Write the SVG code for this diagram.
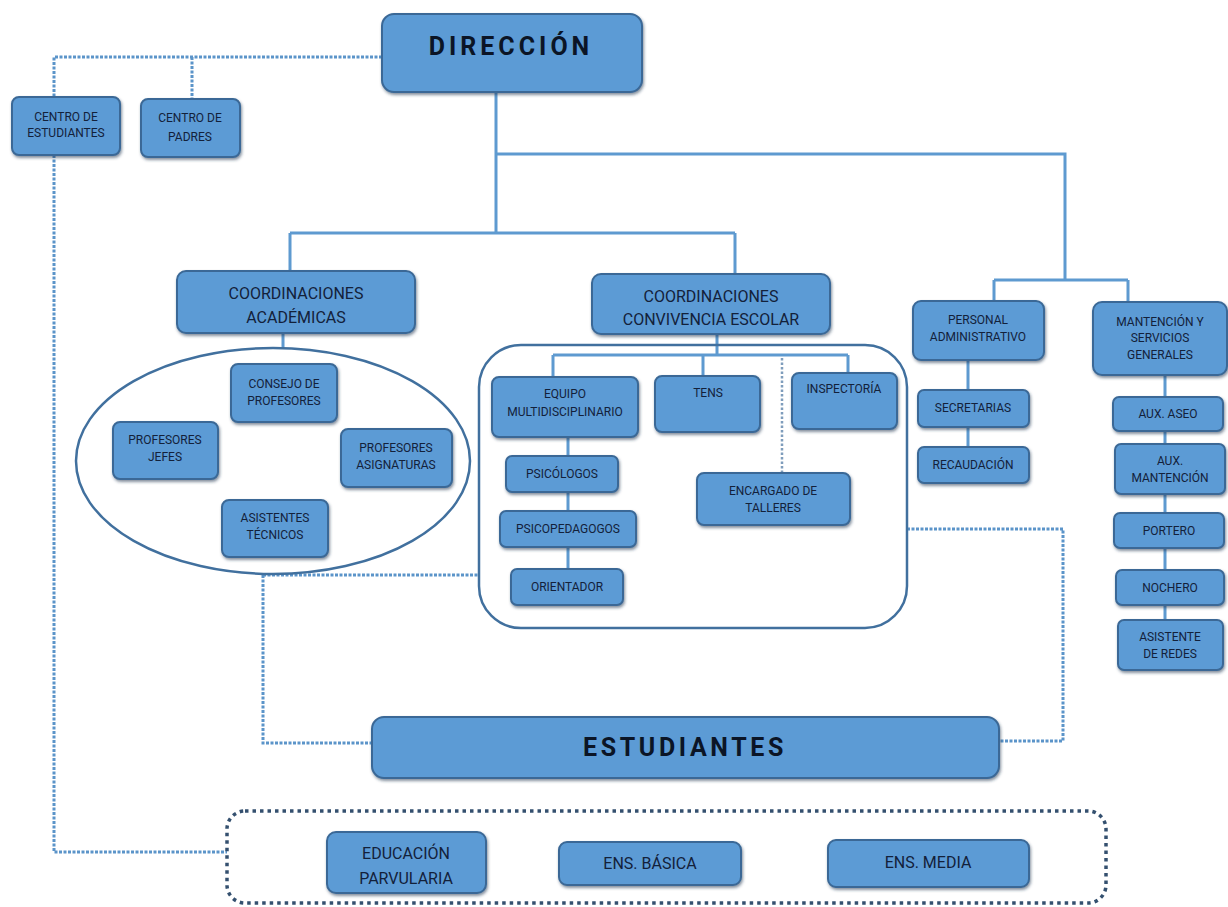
<svg xmlns="http://www.w3.org/2000/svg" width="1228" height="907" viewBox="0 0 1228 907">
<style>
.bx{fill:#5B9BD5;stroke:#3A6896;stroke-width:2;filter:url(#sh)}
.t{font-family:Roboto,"Liberation Sans",sans-serif;font-size:12px;fill:#13213A;text-anchor:middle}
.m{font-family:Roboto,"Liberation Sans",sans-serif;font-size:16px;fill:#13213A;text-anchor:middle}
.big{font-family:Roboto,"Liberation Sans",sans-serif;font-weight:bold;fill:#0B1526;text-anchor:middle}
.ln{fill:none;stroke:#5E9AD0;stroke-width:3}
.dot{fill:none;stroke:#5B94C9;stroke-width:3;stroke-dasharray:3 1.5}
.dot2{fill:none;stroke:#7F9DBC;stroke-width:2.5;stroke-dasharray:2.5 2}
.grp{fill:none;stroke:#41709E;stroke-width:2.5}
</style>
<defs>
<filter id="sh" x="-10%" y="-10%" width="125%" height="135%">
<feDropShadow dx="1" dy="2" stdDeviation="1.6" flood-color="#1E3550" flood-opacity="0.55"/>
</filter>
</defs>
<rect width="1228" height="907" fill="#FFFFFF"/>

<g id="connectors">
<path class="ln" d="M496 93 V233 M496 154 H1065 V280 M290 233 H735 M290 233 V271 M735 233 V274 M994 280 H1128 M994 280 V301 M1128 280 V302 M283 333 V348 M717 334 V355 M553 355 H848 M553 355 V377 M703 355 V376 M848 355 V373 M568 437 V569 M968 360 V447 M1165 375 V620"/>
<path class="dot" d="M382 57 H54 V97 M192 57 V99 M54 155 V852 H227 M263 575 H479 M263 575 V743 H372 M907 529 H1063 V741 H999"/>
<path class="dot2" d="M782 358 V473"/>
</g>

<g id="groups">
<ellipse class="grp" cx="273" cy="461" rx="197" ry="113"/>
<rect class="grp" x="479" y="345" width="428" height="283" rx="42"/>
<rect x="227" y="811" width="879" height="92" rx="18" fill="none" stroke="#34506F" stroke-width="3.5" stroke-dasharray="3.5 4"/>
</g>

<g id="direccion"><rect class="bx" x="382" y="14" width="260" height="78" rx="12"/><text class="big" x="511" y="55" font-size="25" letter-spacing="4">DIRECCIÓN</text></g>
<g id="centro-estudiantes"><rect class="bx" x="12" y="97" width="108" height="58" rx="7"/><text class="t" x="66" y="121">CENTRO DE</text><text class="t" x="66" y="137">ESTUDIANTES</text></g>
<g id="centro-padres"><rect class="bx" x="141" y="99" width="99" height="58" rx="7"/><text class="t" x="190" y="122">CENTRO DE</text><text class="t" x="190" y="141">PADRES</text></g>

<g id="coord-academicas"><rect class="bx" x="177" y="271" width="238" height="62" rx="9"/><text class="m" x="296" y="299">COORDINACIONES</text><text class="m" x="296" y="323">ACADÉMICAS</text></g>
<g id="coord-convivencia"><rect class="bx" x="592" y="274" width="238" height="60" rx="9"/><text class="m" x="711" y="302">COORDINACIONES</text><text class="m" x="711" y="325">CONVIVENCIA ESCOLAR</text></g>

<g id="consejo"><rect class="bx" x="231" y="364" width="106" height="58" rx="7"/><text class="t" x="284" y="388">CONSEJO DE</text><text class="t" x="284" y="405">PROFESORES</text></g>
<g id="prof-jefes"><rect class="bx" x="113" y="422" width="105" height="57" rx="7"/><text class="t" x="165" y="444">PROFESORES</text><text class="t" x="165" y="461">JEFES</text></g>
<g id="prof-asignaturas"><rect class="bx" x="341" y="429" width="111" height="58" rx="7"/><text class="t" x="396" y="452">PROFESORES</text><text class="t" x="396" y="469">ASIGNATURAS</text></g>
<g id="asistentes-tecnicos"><rect class="bx" x="222" y="500" width="106" height="57" rx="7"/><text class="t" x="275" y="522">ASISTENTES</text><text class="t" x="275" y="539">TÉCNICOS</text></g>

<g id="equipo"><rect class="bx" x="492" y="377" width="146" height="60" rx="7"/><text class="t" x="565" y="398">EQUIPO</text><text class="t" x="565" y="416">MULTIDISCIPLINARIO</text></g>
<g id="tens"><rect class="bx" x="655" y="376" width="105" height="56" rx="7"/><text class="t" x="708" y="397">TENS</text></g>
<g id="inspectoria"><rect class="bx" x="792" y="373" width="105" height="56" rx="7"/><text class="t" x="844" y="393">INSPECTORÍA</text></g>
<g id="encargado"><rect class="bx" x="697" y="473" width="153" height="52" rx="7"/><text class="t" x="773" y="495">ENCARGADO DE</text><text class="t" x="773" y="512">TALLERES</text></g>
<g id="psicologos"><rect class="bx" x="506" y="456" width="112" height="36" rx="6"/><text class="t" x="562" y="478">PSICÓLOGOS</text></g>
<g id="psicopedagogos"><rect class="bx" x="500" y="511" width="136" height="36" rx="6"/><text class="t" x="568" y="533">PSICOPEDAGOGOS</text></g>
<g id="orientador"><rect class="bx" x="511" y="569" width="112" height="36" rx="6"/><text class="t" x="567" y="591">ORIENTADOR</text></g>

<g id="personal-admin"><rect class="bx" x="913" y="301" width="131" height="59" rx="8"/><text class="t" x="978" y="324">PERSONAL</text><text class="t" x="978" y="341">ADMINISTRATIVO</text></g>
<g id="secretarias"><rect class="bx" x="918" y="390" width="111" height="37" rx="6"/><text class="t" x="973" y="412">SECRETARIAS</text></g>
<g id="recaudacion"><rect class="bx" x="918" y="447" width="111" height="36" rx="6"/><text class="t" x="973" y="469">RECAUDACIÓN</text></g>

<g id="mantencion"><rect class="bx" x="1093" y="302" width="134" height="73" rx="9"/><text class="t" x="1160" y="326">MANTENCIÓN Y</text><text class="t" x="1160" y="342">SERVICIOS</text><text class="t" x="1160" y="359">GENERALES</text></g>
<g id="aux-aseo"><rect class="bx" x="1113" y="397" width="110" height="34" rx="6"/><text class="t" x="1168" y="418">AUX. ASEO</text></g>
<g id="aux-mantencion"><rect class="bx" x="1115" y="444" width="110" height="50" rx="6"/><text class="t" x="1170" y="465">AUX.</text><text class="t" x="1170" y="482">MANTENCIÓN</text></g>
<g id="portero"><rect class="bx" x="1114" y="513" width="110" height="35" rx="6"/><text class="t" x="1169" y="535">PORTERO</text></g>
<g id="nochero"><rect class="bx" x="1116" y="570" width="108" height="35" rx="6"/><text class="t" x="1170" y="592">NOCHERO</text></g>
<g id="asistente-redes"><rect class="bx" x="1118" y="620" width="105" height="50" rx="6"/><text class="t" x="1170" y="641">ASISTENTE</text><text class="t" x="1170" y="658">DE REDES</text></g>

<g id="estudiantes"><rect class="bx" x="372" y="717" width="627" height="61" rx="12"/><text class="big" x="685" y="756" font-size="25" letter-spacing="3.6">ESTUDIANTES</text></g>

<g id="educacion-parvularia"><rect class="bx" x="327" y="832" width="159" height="61" rx="9"/><text class="m" x="406" y="859">EDUCACIÓN</text><text class="m" x="406" y="884">PARVULARIA</text></g>
<g id="ens-basica"><rect class="bx" x="559" y="842" width="182" height="43" rx="8"/><text class="m" x="650" y="869">ENS. BÁSICA</text></g>
<g id="ens-media"><rect class="bx" x="828" y="840" width="201" height="47" rx="8"/><text class="m" x="928" y="868">ENS. MEDIA</text></g>
</svg>
